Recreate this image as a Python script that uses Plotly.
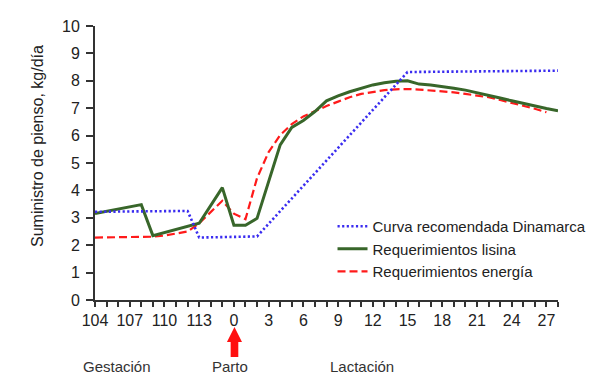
import plotly.graph_objects as go

# Category axis: gestation days 104-115, then lactation days 0-28
days = list(range(104, 116)) + list(range(0, 29))
tick_labels = [str(d) if i % 3 == 0 else "" for i, d in enumerate(days)]

blue_days = [104, 112, 113, 2, 15, 28]
blue_vals = [3.22, 3.25, 2.28, 2.32, 8.32, 8.37]

green_days = [104, 108, 109, 113, 115, 0, 1, 2, 4, 5, 6, 7, 8, 9, 10, 11, 12, 13,
              14, 15, 16, 17, 18, 19, 20, 21, 22, 23, 24, 25, 26, 27, 28]
green_vals = [3.16, 3.48, 2.35, 2.8, 4.1, 2.73, 2.73, 2.98, 5.66, 6.3, 6.55, 6.88,
              7.27, 7.45, 7.6, 7.72, 7.85, 7.93, 7.98, 8.0, 7.88, 7.85, 7.8, 7.73,
              7.66, 7.57, 7.47, 7.37, 7.27, 7.17, 7.07, 6.99, 6.91]

red_days = [104, 109, 110, 111, 112, 113, 115] + list(range(0, 28))
red_vals = [2.28, 2.31, 2.35, 2.42, 2.5, 2.8, 3.62,
            3.15, 2.95, 4.45, 5.4, 6.02, 6.42, 6.7, 6.9, 7.08, 7.24, 7.4, 7.52,
            7.6, 7.66, 7.69, 7.7, 7.68, 7.65, 7.62, 7.58, 7.52, 7.47, 7.4, 7.3,
            7.2, 7.1, 6.98, 6.85]

names = ["Curva recomendada Dinamarca", "Requerimientos lisina", "Requerimientos energía"]
phase_labels = ["Gestación", "Parto", "Lactación"]
y_title = "Suministro de pienso, kg/día"

pos = {d: i for i, d in enumerate(days)}
FONT = "Liberation Sans, Arial, sans-serif"

fig = go.Figure()
fig.add_trace(go.Scatter(
    x=[pos[d] for d in red_days], y=red_vals, mode="lines", name=names[2],
    line=dict(color="#ff1a1a", width=2.2, dash="8px,4px"), legendrank=3))
fig.add_trace(go.Scatter(
    x=[pos[d] for d in green_days], y=green_vals, mode="lines", name=names[1],
    line=dict(color="#38662a", width=3), legendrank=2))
fig.add_trace(go.Scatter(
    x=[pos[d] for d in blue_days], y=blue_vals, mode="lines", name=names[0],
    line=dict(color="#3a2cf0", width=2.6, dash="2.2px,2.4px"), legendrank=1))

# page body has an 8px offset, margins compensate for it
fig.update_layout(
    width=600, height=389,
    margin=dict(l=87, r=50, t=18, b=97, autoexpand=False),
    paper_bgcolor="white", plot_bgcolor="white",
    font=dict(family=FONT, size=15, color="#222222"),
    showlegend=True,
    legend=dict(x=0.513, y=0.186, xanchor="left", yanchor="middle",
                bgcolor="rgba(0,0,0,0)", font=dict(size=15, color="#222222"),
                itemwidth=30, tracegroupgap=0),
    xaxis=dict(range=[0, len(days) - 1], tickmode="array",
               tickvals=list(range(len(days))), ticktext=tick_labels,
               showline=True, linecolor="#333333", linewidth=2,
               ticks="outside", ticklen=5, tickcolor="#333333", tickwidth=1.5,
               showgrid=False, zeroline=False, automargin=False,
               tickfont=dict(size=16, color="#222222"), tickangle=0),
    yaxis=dict(range=[0, 10], tickmode="array", tickvals=list(range(11)),
               showline=True, linecolor="#333333", linewidth=2,
               ticks="outside", ticklen=7, tickcolor="#333333", tickwidth=1.5,
               showgrid=False, zeroline=False, automargin=False,
               ticklabelstandoff=3,
               tickfont=dict(size=16, color="#222222")),
)

# y-axis title
fig.add_annotation(x=-0.1253, y=0.562, xref="paper", yref="paper", text=y_title,
                   textangle=-90, showarrow=False, xanchor="center", yanchor="middle",
                   font=dict(size=16, color="#222222"))

# phase labels below the axis
for txt, xi in zip(phase_labels, [1.9, 11.66, 23.07]):
    fig.add_annotation(x=xi, y=-0.2445, xref="x", yref="paper", text=txt,
                       showarrow=False, font=dict(size=15, color="#333333"),
                       xanchor="center", yanchor="middle")

# red arrow pointing at farrowing
cx = pos[0] + 0.05
fig.add_shape(type="path", xref="x", yref="paper",
              path=(f"M {cx-0.65},-0.1533 L {cx},-0.0985 L {cx+0.65},-0.1533 "
                    f"L {cx+0.33},-0.1533 L {cx+0.33},-0.208 L {cx-0.33},-0.208 "
                    f"L {cx-0.33},-0.1533 Z"),
              fillcolor="#ff1010", line=dict(width=0), layer="above")

fig.write_html("out.html")
